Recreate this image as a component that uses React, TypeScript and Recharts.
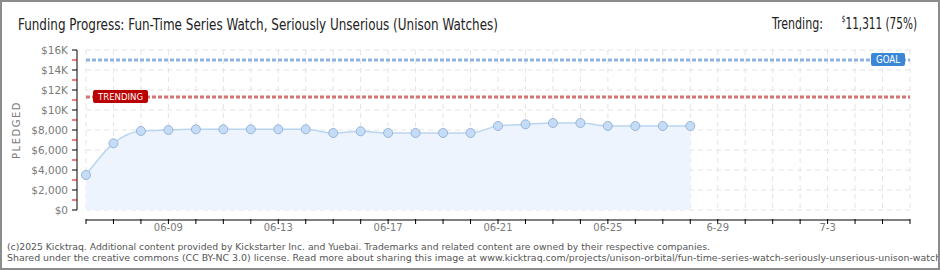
import React from 'react';
import { ComposedChart, Area, XAxis, YAxis, CartesianGrid, ReferenceLine } from 'recharts';

const dayLabels = [
  '06-06', '06-07', '06-08', '06-09', '06-10', '06-11', '06-12', '06-13', '06-14', '06-15', '06-16', '06-17',
  '06-18', '06-19', '06-20', '06-21', '06-22', '06-23', '06-24', '06-25', '06-26', '06-27', '06-28',
];
const pledged = [
  3500, 6670, 7900, 8000, 8070, 8070, 8070, 8070, 8070, 7700, 7870, 7700,
  7700, 7700, 7700, 8400, 8570, 8700, 8700, 8400, 8400, 8400, 8400,
];
const campaignDays = 31;
const xTickDays = [3, 7, 11, 15, 19, 23, 27];
const xTickLabels = ['06-09', '06-13', '06-17', '06-21', '06-25', '6-29', '7-3'];
const yAllTicks = [0, 1000, 2000, 3000, 4000, 5000, 6000, 7000, 8000, 9000, 10000, 11000, 12000, 13000, 14000, 15000, 16000];
const yMajorTicks = [0, 2000, 4000, 6000, 8000, 10000, 12000, 14000, 16000];
const yMajorLabels = ['$0', '$2,000', '$4,000', '$6,000', '$8,000', '$10K', '$12K', '$14K', '$16K'];
const goal = 15000;
const trending = 11311;

const data = pledged.map((v, i) => ({ x: i, day: dayLabels[i], pledged: v }));
const dayTicks = Array.from({ length: campaignDays }, (_, i) => i);

const tickFont = 'DejaVu Sans, sans-serif';
const narrowFont = 'DejaVu Sans Condensed, DejaVu Sans, sans-serif';

const YTick = (props: any) => {
  const { x, y, payload } = props;
  const idx = yMajorTicks.indexOf(payload.value);
  if (idx < 0) {
    return <line x1={x - 5} x2={x} y1={y} y2={y} stroke="#e00000" strokeWidth={1} />;
  }
  return (
    <g>
      <line x1={x - 5} x2={x} y1={y} y2={y} stroke="#000" strokeWidth={1} />
      <text x={x - 9} y={y} dy={4} textAnchor="end" fill="#7a7a7a" fontSize={10.5} fontFamily={tickFont}>
        {yMajorLabels[idx]}
      </text>
    </g>
  );
};

const XTick = (props: any) => {
  const { x, y, payload } = props;
  const idx = xTickDays.indexOf(payload.value);
  return (
    <g>
      <line x1={x} x2={x} y1={y - 1} y2={y + 4} stroke="#000" strokeWidth={1} />
      {idx >= 0 && (
        <text x={x} y={y + 11} textAnchor="middle" fill="#7a7a7a" fontSize={10} fontFamily={tickFont}>
          {xTickLabels[idx]}
        </text>
      )}
    </g>
  );
};

const GoalLabel = (props: any) => {
  const vb = props.viewBox || {};
  const w = 34;
  const h = 13;
  const rx = vb.x + vb.width - 5 - w;
  const ry = vb.y - 7;
  return (
    <g>
      <rect x={rx} y={ry} width={w} height={h} rx={2} fill="#3a87d8" />
      <text x={rx + w / 2} y={ry + 10} textAnchor="middle" fill="#fff" fontSize={10} fontFamily={tickFont}
        textLength={24} lengthAdjust="spacingAndGlyphs">GOAL</text>
    </g>
  );
};

const TrendLabel = (props: any) => {
  const vb = props.viewBox || {};
  const w = 55;
  const h = 13;
  const rx = vb.x + 7;
  const ry = vb.y - 7;
  return (
    <g>
      <rect x={rx} y={ry} width={w} height={h} rx={2} fill="#bb0000" />
      <text x={rx + w / 2} y={ry + 10} textAnchor="middle" fill="#fff" fontSize={9.5} fontFamily={tickFont}
        textLength={45} lengthAdjust="spacingAndGlyphs">TRENDING</text>
    </g>
  );
};

const PledgedLabel = (props: any) => {
  const vb = props.viewBox || {};
  const cx = vb.x + 13;
  const cy = vb.y + vb.height / 2;
  return (
    <text x={cx} y={cy} transform={`rotate(-90 ${cx} ${cy})`} textAnchor="middle" fill="#7a7a7a"
      fontSize={10} fontFamily={tickFont} letterSpacing={1.5}>PLEDGED</text>
  );
};

export default function App() {
  return (
    <div style={{ position: 'absolute', left: 0, top: 0, width: 940, height: 270, background: '#fff', overflow: 'hidden' }}>
      <ComposedChart width={940} height={270} data={data} margin={{ top: 50, right: 30, left: 7, bottom: 30 }}>
        <CartesianGrid xAxisId="main" yAxisId="main" stroke="#e4e4e4" strokeDasharray="5 4"
          horizontalValues={yMajorTicks} />
        <XAxis xAxisId="gap" type="number" dataKey="x" domain={[0, campaignDays - 1]} height={10}
          axisLine={false} tickLine={false} tick={false} />
        <XAxis xAxisId="main" type="number" dataKey="x" domain={[0, campaignDays - 1]} ticks={dayTicks}
          interval={0} height={20} axisLine={{ stroke: '#000', strokeWidth: 1 }} tickLine={false}
          tickSize={0} tickMargin={0} tick={<XTick />} />
        <YAxis yAxisId="gap" domain={[0, 16000]} width={9} axisLine={false} tickLine={false} tick={false} />
        <YAxis yAxisId="main" domain={[0, 16000]} ticks={yAllTicks} interval={0} width={70}
          axisLine={{ stroke: '#000', strokeWidth: 1 }} tickLine={false} tickSize={0} tickMargin={0}
          tick={<YTick />} label={{ content: <PledgedLabel /> }} />
        <Area xAxisId="main" yAxisId="main" type="monotone" dataKey="pledged" stroke="#b9d5f2" strokeWidth={1.5}
          fill="#edf4fd" fillOpacity={1} isAnimationActive={false} activeDot={false}
          dot={{ r: 4.5, fill: '#c5dcf6', stroke: '#98b5da', strokeWidth: 1 }} />
        <ReferenceLine xAxisId="main" yAxisId="main" y={goal} stroke="#8fb4df" strokeWidth={3}
          strokeDasharray="4 2" label={<GoalLabel />} />
        <ReferenceLine xAxisId="main" yAxisId="main" y={trending} stroke="#d27474" strokeWidth={3}
          strokeDasharray="4 2" label={<TrendLabel />} />
      </ComposedChart>
      <svg width={940} height={270} style={{ position: 'absolute', left: 0, top: 0, pointerEvents: 'none' }}>
        <text x={18} y={29.5} fill="#222" fontSize={15.5} fontFamily={narrowFont}
          textLength={480} lengthAdjust="spacingAndGlyphs">
          Funding Progress: Fun-Time Series Watch, Seriously Unserious (Unison Watches)
        </text>
        <text x={772} y={28.5} fill="#222" fontSize={16} fontFamily={narrowFont}
          textLength={51} lengthAdjust="spacingAndGlyphs">Trending:</text>
        <text x={917} y={28.5} fill="#222" fontFamily={narrowFont} textAnchor="end"
          textLength={75.5} lengthAdjust="spacingAndGlyphs">
          <tspan fontSize={9} dy={-7}>$</tspan>
          <tspan fontSize={15} dy={7}>11,311 (75%)</tspan>
        </text>
        <text x={7} y={250} fill="#555" fontSize={9.5} fontFamily={narrowFont}
          textLength={703} lengthAdjust="spacingAndGlyphs">
          (c)2025 Kicktraq. Additional content provided by Kickstarter Inc. and Yuebai. Trademarks and related content are owned by their respective companies.
        </text>
        <text x={7} y={261} fill="#555" fontSize={9.5} fontFamily={narrowFont}
          textLength={948} lengthAdjust="spacingAndGlyphs">
          Shared under the creative commons (CC BY-NC 3.0) license. Read more about sharing this image at www.kicktraq.com/projects/unison-orbital/fun-time-series-watch-seriously-unserious-unison-watches/
        </text>
      </svg>
      <div style={{ position: 'absolute', left: 0, top: 0, width: 940, height: 270, boxSizing: 'border-box',
        border: '2px solid #8c8c8c', pointerEvents: 'none' }} />
    </div>
  );
}
